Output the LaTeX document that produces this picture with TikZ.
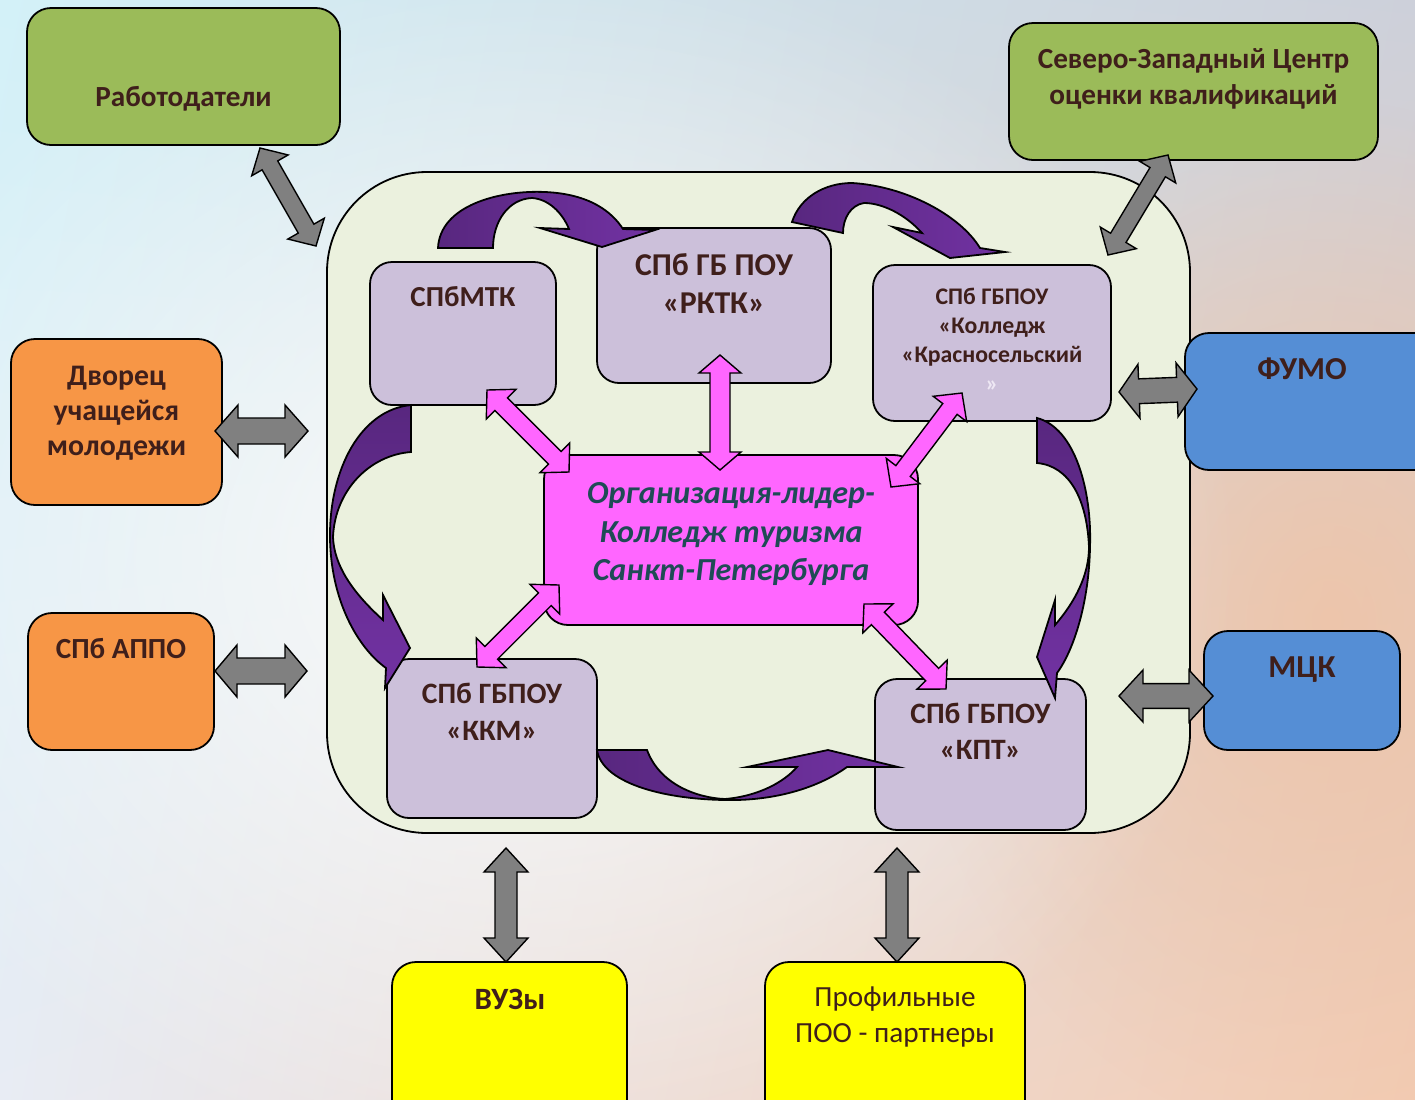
\documentclass[tikz,border=0pt]{standalone}
\usepackage{fontspec}
\setmainfont{Carlito}
\usetikzlibrary{calc,shadings,fadings}
\tikzfading[name=softc, inner color=transparent!0, outer color=transparent!100]
\definecolor{textc}{HTML}{3F1F1B}
\definecolor{centc}{HTML}{1F4B55}
\definecolor{grn}{HTML}{9BBB59}
\definecolor{orng}{HTML}{F79646}
\definecolor{blu}{HTML}{558ED5}
\definecolor{yel}{HTML}{FFFF00}
\definecolor{lav}{HTML}{CCC0DA}
\definecolor{mag}{HTML}{FF66FF}
\definecolor{cont}{HTML}{EBF1DE}
\definecolor{gry}{HTML}{808080}
\definecolor{pdark}{HTML}{58277F}
\definecolor{plight}{HTML}{7232A3}
\definecolor{quotec}{HTML}{EEE8F4}
\definecolor{bgul}{HTML}{D3F1F8}
\definecolor{bgur}{HTML}{CDD0DA}
\definecolor{bgll}{HTML}{E8ECF4}
\definecolor{bglr}{HTML}{F3CBB2}
\definecolor{peach}{HTML}{F1C2A2}
\newcommand\blockdbl[6]{%
  \coordinate (tmpHA) at ($(#2)!#6!(#3)$);
  \coordinate (tmpHB) at ($(#3)!#6!(#2)$);
  \draw[#1] (#2) -- ($(tmpHA)!#5!90:(#3)$) -- ($(tmpHA)!#4!90:(#3)$) -- ($(tmpHB)!#4!-90:(#2)$) -- ($(tmpHB)!#5!-90:(#2)$) -- (#3) -- ($(tmpHB)!#5!90:(#2)$) -- ($(tmpHB)!#4!90:(#2)$) -- ($(tmpHA)!#4!-90:(#3)$) -- ($(tmpHA)!#5!-90:(#3)$) -- cycle;}
\tikzset{
  box/.style={draw=black, line width=0.9pt, rounded corners=12pt, inner sep=0pt, outer sep=0pt},
  ibox/.style={box, fill=lav, rounded corners=11pt},
  txt/.style={text=textc, align=center, inner sep=0pt, anchor=north},
  fb/.style={font=\bfseries\fontsize{#1}{18}\selectfont},
  grayarr/.style={draw=black, line width=0.7pt, fill=gry, line join=miter},
  pinkarr/.style={draw=black, line width=0.7pt, fill=mag, line join=miter},
  purarr/.style={draw=black, line width=0.9pt, line join=miter},
}
\begin{document}
\begin{tikzpicture}[x=0.5pt, y=-0.5pt]
\useasboundingbox (0,0) rectangle (1415,1099);
\shade[upper left=bgul, upper right=bgur, lower left=bgll, lower right=bglr]
  (0,0) rectangle (1415,1099);
\fill[peach, opacity=0.75, path fading=softc] (1330,620) ellipse [x radius=420, y radius=520];
\fill[white, opacity=0.85, path fading=softc] (520,560) ellipse [x radius=720, y radius=620];

% container
\node[draw=black, line width=0.9pt, fill=cont, rounded corners=50pt, minimum width=431.5pt, minimum height=330.5pt, inner sep=0pt] (cont) at (758.5,502.5) {};

% outer boxes
\node[box, fill=grn, minimum width=156.5pt, minimum height=68.5pt] (rab) at (183.5,76.5) {};
\node[box, fill=grn, minimum width=184.5pt, minimum height=68.5pt] (szc) at (1193.5,91.5) {};
\node[box, fill=orng, minimum width=105.5pt, minimum height=83pt] (dvor) at (116.5,422) {};
\node[box, fill=orng, minimum width=93pt, minimum height=68.5pt] (appo) at (121,681.5) {};
\node[box, fill=blu, minimum width=127.5pt, minimum height=68.5pt] (fumo) at (1312.5,401.5) {};
\node[box, fill=blu, minimum width=98pt, minimum height=59.5pt] (mck) at (1302,690.5) {};
\node[box, fill=yel, minimum width=117.5pt, minimum height=84pt] (vuz) at (509.5,1046) {};
\node[box, fill=yel, minimum width=130pt, minimum height=84pt] (poo) at (895,1046) {};

% inner boxes
\node[ibox, minimum width=93pt, minimum height=71.5pt] (mtk) at (463,333.5) {};
\node[ibox, minimum width=117pt, minimum height=77.5pt] (rktk) at (714,305.5) {};
\node[ibox, minimum width=119pt, minimum height=78pt] (krs) at (992,343) {};
\node[ibox, minimum width=105pt, minimum height=79.5pt] (kkm) at (492,738.5) {};
\node[ibox, minimum width=105.5pt, minimum height=75.5pt] (kpt) at (980.5,754.5) {};
\node[box, fill=mag, rounded corners=12pt, minimum width=187pt, minimum height=85pt] (lead) at (731,540) {};

% texts
\node[txt, fb=14.6] (trab) at (183.5,86) {Работодатели};
\node[txt, fb=14.6] (tszc) at (1193.5,48) {Северо-Западный Центр\\оценки квалификаций};
\node[txt, font=\bfseries\fontsize{14.9}{17.5}\selectfont] (tdvor) at (116.5,366) {Дворец\\учащейся\\молодежи};
\node[txt, fb=14.6] (tappo) at (121,638) {СПб АППО};
\node[txt, fb=16] (tfumo) at (1302,357) {ФУМО};
\node[txt, fb=16] (tmck) at (1302,656) {МЦК};
\node[txt, fb=15.5] (tvuz) at (510,989) {ВУЗы};
\node[txt, font=\fontsize{14.6}{18}\selectfont] (tpoo) at (895,986) {Профильные\\ПОО - партнеры};
\node[txt, fb=14.5] (tmtk) at (463,286) {СПбМТК};
\node[txt, font=\bfseries\fontsize{15.9}{19}\selectfont] (trktk) at (714,253) {СПб ГБ ПОУ\\«РКТК»};
\node[txt, font=\bfseries\fontsize{11.9}{14.5}\selectfont] (tkrs) at (992,288) {СПб ГБПОУ\\«Колледж\\«Красносельский\\{\color{quotec}»}};
\node[txt, font=\bfseries\fontsize{14.8}{18.5}\selectfont] (tkkm) at (492,683) {СПб ГБПОУ\\«ККМ»};
\node[txt, font=\bfseries\fontsize{14.8}{18}\selectfont] (tkpt) at (980.5,703) {СПб ГБПОУ\\«КПТ»};
\node[txt, text=centc, font=\bfseries\itshape\fontsize{16.05}{19.3}\selectfont] (tlead) at (731,482) {Организация-лидер-\\Колледж туризма\\Санкт-Петербурга};

% curved purple arrows
\draw[purarr, left color=pdark, right color=plight]
  (438,248) .. controls (440,205) and (500,190) .. (545,192)
  .. controls (590,194) and (612,212) .. (623,229)
  -- (655,230) -- (602,247) -- (540,228) -- (569,229)
  .. controls (562,212) and (548,199) .. (532,198)
  .. controls (508,199) and (493,222) .. (493,248) -- cycle;
\draw[purarr, left color=pdark, right color=plight]
  (792,222) .. controls (800,197) and (825,183) .. (852,183)
  .. controls (905,186) and (960,215) .. (980,248)
  -- (1005,252) -- (950,258) -- (893,227) -- (922,233)
  .. controls (905,214) and (882,203) .. (864,203)
  .. controls (851,205) and (843,218) .. (843,233) -- cycle;
\draw[purarr, top color=pdark, bottom color=plight]
  (1037,418) .. controls (1075,428) and (1092,490) .. (1090,547)
  .. controls (1089,602) and (1074,650) .. (1057,673)
  -- (1055,698) -- (1037,657) -- (1055,600) -- (1055,625)
  .. controls (1075,602) and (1089,575) .. (1089,547)
  .. controls (1087,500) and (1070,466) .. (1037,463) -- cycle;
\draw[purarr, top color=pdark, bottom color=plight]
  (411,405) .. controls (360,410) and (330,470) .. (330,535)
  .. controls (330,600) and (358,648) .. (386,668)
  -- (385,688) -- (410,648) -- (383,595) -- (383,620)
  .. controls (352,592) and (334,565) .. (333,537)
  .. controls (335,490) and (370,455) .. (411,452) -- cycle;
\draw[purarr, left color=pdark, right color=plight]
  (597,750) -- (647,750)
  .. controls (660,785) and (698,798) .. (725,799)
  .. controls (760,796) and (785,781) .. (797,767)
  -- (747,767) -- (828,750) -- (898,767) -- (847,767)
  .. controls (815,790) and (770,801) .. (725,800)
  .. controls (660,799) and (602,782) .. (597,750) -- cycle;

% pink double arrows
\coordinate (p1a) at (487,390); \coordinate (p1b) at (569,472);
\coordinate (p2a) at (720,355); \coordinate (p2b) at (720,470);
\coordinate (p3a) at (962,393); \coordinate (p3b) at (891,487);
\coordinate (p4a) at (559,585); \coordinate (p4b) at (477,667);
\coordinate (p5a) at (864,604); \coordinate (p5b) at (946,689);
\blockdbl{pinkarr}{p1a}{p1b}{4.5pt}{10.5pt}{10pt}
\blockdbl{pinkarr}{p2a}{p2b}{5pt}{10.5pt}{9pt}
\blockdbl{pinkarr}{p3a}{p3b}{4.5pt}{10.5pt}{10pt}
\blockdbl{pinkarr}{p4a}{p4b}{4.5pt}{10.5pt}{10pt}
\blockdbl{pinkarr}{p5a}{p5b}{4.5pt}{10.5pt}{10pt}

% gray double arrows
\coordinate (g1a) at (260,148); \coordinate (g1b) at (316,246);
\coordinate (g2a) at (1168,155); \coordinate (g2b) at (1108,255);
\coordinate (g3a) at (215,431); \coordinate (g3b) at (308,431);
\coordinate (g4a) at (215,671); \coordinate (g4b) at (307,671);
\coordinate (g5a) at (1119,392); \coordinate (g5b) at (1197,389);
\coordinate (g6a) at (1119,696); \coordinate (g6b) at (1213,696);
\coordinate (g7a) at (506,848); \coordinate (g7b) at (506,962);
\coordinate (g8a) at (897,848); \coordinate (g8b) at (897,962);
\blockdbl{grayarr}{g1a}{g1b}{4.5pt}{10.5pt}{10pt}
\blockdbl{grayarr}{g2a}{g2b}{4.5pt}{10.5pt}{10pt}
\blockdbl{grayarr}{g3a}{g3b}{6.5pt}{13pt}{11.5pt}
\blockdbl{grayarr}{g4a}{g4b}{6.5pt}{13pt}{11pt}
\blockdbl{grayarr}{g5a}{g5b}{6.2pt}{13.5pt}{10pt}
\blockdbl{grayarr}{g6a}{g6b}{6.2pt}{13pt}{12pt}
\blockdbl{grayarr}{g7a}{g7b}{5.5pt}{11pt}{12pt}
\blockdbl{grayarr}{g8a}{g8b}{5.5pt}{11pt}{12pt}
\end{tikzpicture}
\end{document}
